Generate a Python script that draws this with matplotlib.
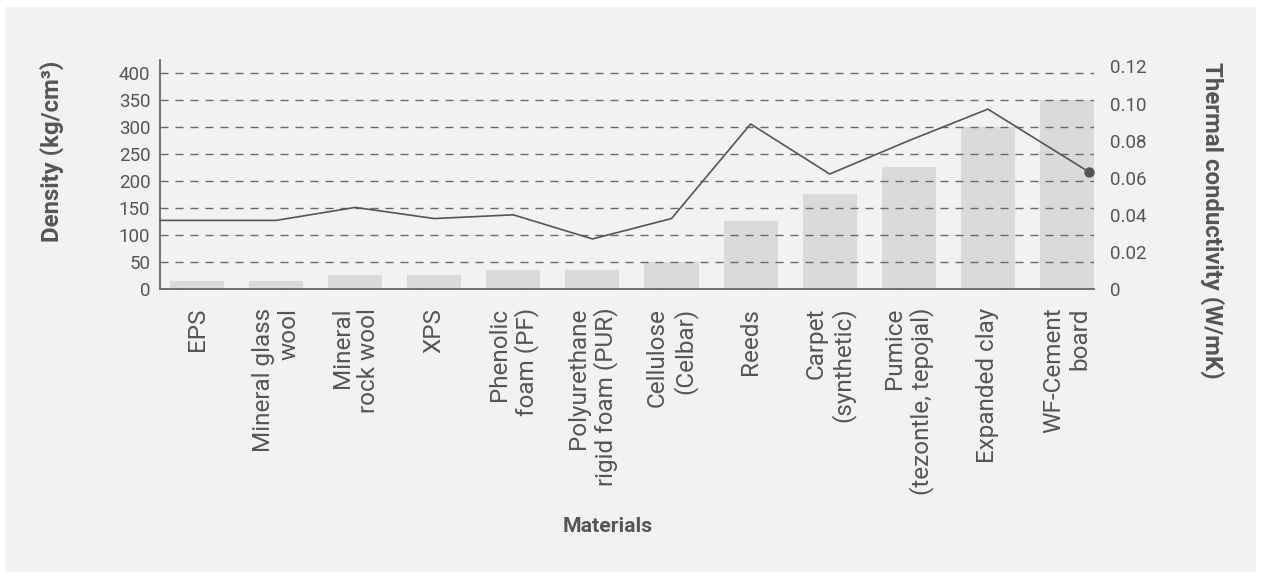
import numpy as np
import matplotlib
matplotlib.use('Agg')
import matplotlib.pyplot as plt
from matplotlib.patches import Rectangle

# Données
materials = ['EPS', 'Mineral glass\nwool', 'Mineral\nrock wool', 'XPS', 'Phenolic\nfoam (PF)',
             'Polyurethane\nrigid foam (PUR)', 'Cellulose\n(Celbar)', 'Reeds', 'Carpet\n(synthetic)',
             'Pumice\n(tezontle, tepojal)', 'Expanded clay', 'WF-Cement\nboard']
density = [15, 15, 25, 25, 35, 35, 50, 125, 175, 225, 300, 350]
conductivity = [0.037, 0.037, 0.044, 0.038, 0.040, 0.027, 0.038, 0.089, 0.062, 0.080, 0.097, 0.063]
density_ticks = list(range(0, 401, 50))
cond_ticks = [0, 0.02, 0.04, 0.06, 0.08, 0.10, 0.12]
cond_tick_labels = ['0', '0.02', '0.04', '0.06', '0.08', '0.10', '0.12']

plt.rcParams['font.family'] = ['Roboto', 'DejaVu Sans']
txt = '#555555'

W, H = 1261, 579
fig = plt.figure(figsize=(W / 100, H / 100), dpi=100)
fig.patch.set_facecolor('white')
fig.add_artist(Rectangle((5 / W, 1 - 572 / H), 1251 / W, 565 / H, transform=fig.transFigure,
                         facecolor='#f2f2f2', edgecolor='none', zorder=-10))

ax = fig.add_axes([160 / W, 1 - 289 / H, 934 / W, 229 / H])
ax.set_facecolor('none')
x = np.arange(len(materials))
ax.bar(x, density, width=0.684, color='#dadadb', zorder=1)
ax.set_xlim(-0.468, 11.342)
ax.set_ylim(0, 423.5)
ax.set_yticks(density_ticks)
ax.set_axisbelow(False)
ax.grid(axis='y', color='#6a6a6a', linewidth=1.0, linestyle=(0, (5.8, 5.0)))
ax.grid(axis='x', visible=False)
ax.tick_params(axis='y', length=0, pad=7, labelsize=13.5, labelcolor=txt)
ax.set_xticks(x)
ax.set_xticklabels(materials, rotation=90, ha='center', va='top', multialignment='right',
                   linespacing=1.15)
ax.tick_params(axis='x', length=0, pad=13.5, labelsize=17.5, labelcolor=txt)
for s in ['top', 'right']:
    ax.spines[s].set_visible(False)
for s in ['left', 'bottom']:
    ax.spines[s].set_color('#666666')
    ax.spines[s].set_linewidth(1.3)

# Axe secondaire : conductivité thermique
ax2 = ax.twinx()
xl = ax.get_xlim()
line_x = x.astype(float)
line_x[0] = xl[0]
line_x[-1] = xl[1] - 0.06
ax2.plot(line_x, conductivity, color='#555555', linewidth=1.2, zorder=3, clip_on=False)
ax2.plot(line_x[-1], conductivity[-1], 'o', color='#555555', markersize=6.5, clip_on=False)
ax2.set_ylim(0, 0.1235)
ax2.set_yticks(cond_ticks)
ax2.set_yticklabels(cond_tick_labels)
ax2.tick_params(axis='y', length=0, pad=11.5, labelsize=13.5, labelcolor=txt)
for s in ax2.spines.values():
    s.set_visible(False)

fig.text(52 / W, 1 - 151 / H, 'Density (kg/cm³)', rotation=90, ha='center', va='center',
         fontsize=17.3, fontweight='bold', color=txt)
fig.text(1212 / W, 1 - 220 / H, 'Thermal conductivity (W/mK)', rotation=-90, ha='center', va='center',
         fontsize=17.3, fontweight='bold', color=txt)
fig.text(608 / W, 1 - 527 / H, 'Materials', ha='center', va='center',
         fontsize=15.3, fontweight='bold', color=txt)

fig.savefig('out.png', dpi=100, facecolor=fig.get_facecolor())
